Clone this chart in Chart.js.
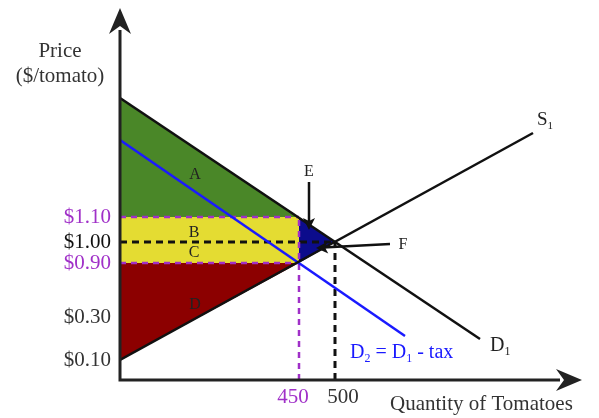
<!DOCTYPE html>
<html>
<head>
<meta charset="utf-8">
<script src="https://cdn.jsdelivr.net/npm/chart.js@4.4.0/dist/chart.umd.min.js"></script>
<style>
  html, body { margin:0; padding:0; background:#fff; }
  #wrap { width:599px; height:418px; position:relative; }
</style>
</head>
<body>
<div id="wrap"><canvas id="taxChart"></canvas></div>
<script>
// schematic diagram: positions are in diagram units along each axis
const priceTickPos    = [20, 63, 117, 138, 163];
const priceTickLabels = ["$0.10", "$0.30", "$0.90", "$1.00", "$1.10"];
const priceTickColors = ["#333", "#333", "#a030c8", "#111", "#a030c8"];
const qtyMarks        = [179, 215];          // 450 and 500 on the axis
const qtyTickPos      = [173, 223];          // where their labels sit
const qtyTickLabels   = ["450", "500"];
const qtyTickColors   = ["#a030c8", "#333"];

const demand1 = [{ x:0, y:282 }, { x:360, y:41 }];
const supply1 = [{ x:0, y:20 },  { x:413, y:247 }];
const demand2 = [{ x:0, y:240 }, { x:285, y:44 }];

const FONT = '"Liberation Serif", "Times New Roman", serif';
const PURPLE = "#a030c8";

// key points
const qTax = qtyMarks[0], qEq = qtyMarks[1];
const pBuyer = priceTickPos[4], pEq = priceTickPos[3], pSeller = priceTickPos[2];

const regionA = [{x:0,y:demand1[0].y}, {x:qTax,y:pBuyer}, {x:0,y:pBuyer}, {x:0,y:demand1[0].y}];
const regionBC = [{x:0,y:pBuyer}, {x:qTax,y:pBuyer}, {x:qTax,y:pSeller}, {x:0,y:pSeller}, {x:0,y:pBuyer}];
const regionD = [{x:0,y:pSeller}, {x:qTax,y:pSeller}, {x:0,y:supply1[0].y}, {x:0,y:pSeller}];
const regionEF = [{x:qTax,y:pBuyer}, {x:qEq,y:pEq}, {x:qTax,y:pSeller}, {x:qTax,y:pBuyer}];

function poly(data, color) {
  return { data, backgroundColor: color, borderWidth: 0, fill: "shape", pointRadius: 0, order: 6 };
}
function seg(data, color, width, dash) {
  return { data, borderColor: color, borderWidth: width, borderDash: dash || [], fill: false, pointRadius: 0, order: dash ? 3 : 1 };
}

function arrowHead(ctx, tx, ty, ang, len, hw, notch) {
  const c = Math.cos(ang), s = Math.sin(ang);
  const bx = tx - c * len, by = ty - s * len;
  ctx.beginPath();
  ctx.moveTo(tx, ty);
  ctx.lineTo(bx - s * hw, by + c * hw);
  ctx.lineTo(tx - c * (len - notch), ty - s * (len - notch));
  ctx.lineTo(bx + s * hw, by - c * hw);
  ctx.closePath();
  ctx.fill();
}

function subText(ctx, x, y, parts, size, color) {
  ctx.fillStyle = color;
  ctx.textAlign = "left";
  ctx.textBaseline = "alphabetic";
  let cx = x;
  parts.forEach(([t, sub]) => {
    const fs = sub ? Math.round(size * 0.6) : size;
    ctx.font = fs + "px " + FONT;
    ctx.fillText(t, cx, sub ? y + size * 0.22 : y);
    cx += ctx.measureText(t).width;
  });
}

const annotations = {
  id: "annotations",
  afterDatasetsDraw(chart) {
    const { ctx, chartArea: a } = chart;
    const X = v => chart.scales.x.getPixelForValue(v);
    const Y = v => chart.scales.y.getPixelForValue(v);
    ctx.save();

    // axes with arrowheads
    ctx.strokeStyle = "#222"; ctx.fillStyle = "#222"; ctx.lineWidth = 3;
    ctx.beginPath();
    ctx.moveTo(a.left, a.bottom + 1.5); ctx.lineTo(a.left, a.top + 20);
    ctx.moveTo(a.left - 1.5, a.bottom); ctx.lineTo(a.right - 20, a.bottom);
    ctx.stroke();
    arrowHead(ctx, a.left, a.top - 2, -Math.PI / 2, 26, 11, 8);
    arrowHead(ctx, a.right + 2, a.bottom, 0, 26, 11, 8);

    // E and F pointers
    ctx.strokeStyle = "#111"; ctx.fillStyle = "#111"; ctx.lineWidth = 2.5;
    ctx.beginPath();
    ctx.moveTo(X(189), Y(198)); ctx.lineTo(X(189), Y(156));
    ctx.moveTo(X(270), Y(136)); ctx.lineTo(X(203), Y(132.5));
    ctx.stroke();
    arrowHead(ctx, X(189), Y(150), Math.PI / 2, 12, 6, 3);
    arrowHead(ctx, X(196), Y(132), Math.PI - 0.05, 12, 6, 3);

    // area and point letters
    ctx.fillStyle = "#222"; ctx.font = "16px " + FONT;
    ctx.textAlign = "center"; ctx.textBaseline = "middle";
    [["A", 75, 205], ["B", 74, 147], ["C", 74, 127], ["D", 75, 75], ["E", 189, 208], ["F", 283, 135]]
      .forEach(([t, x, y]) => ctx.fillText(t, X(x), Y(y)));

    // axis titles
    ctx.font = "21px " + FONT; ctx.fillStyle = "#333";
    ctx.textBaseline = "alphabetic";
    ctx.fillText("Price", X(-60), Y(323));
    ctx.fillText("($/tomato)", X(-60), Y(298));
    ctx.textAlign = "left";
    ctx.fillText("Quantity of Tomatoes", X(270), Y(-30));

    // curve labels
    subText(ctx, X(417), Y(255), [["S", false], ["1", true]], 19, "#222");
    subText(ctx, X(370), Y(29), [["D", false], ["1", true]], 20, "#222");
    subText(ctx, X(230), Y(22), [["D", false], ["2", true], [" = D", false], ["1", true], [" - tax", false]], 20, "#1a1aff");

    ctx.restore();
  }
};

new Chart(document.getElementById("taxChart").getContext("2d"), {
  type: "line",
  data: {
    datasets: [
      poly(regionA, "#4a8728"),
      poly(regionBC, "#e4dc32"),
      poly(regionD, "#8c0000"),
      poly(regionEF, "#0c0c8c"),
      seg([{x:0,y:pBuyer}, {x:qTax,y:pBuyer}], PURPLE, 2.5, [6, 5]),
      seg([{x:0,y:pSeller}, {x:qTax,y:pSeller}], PURPLE, 2.5, [6, 5]),
      seg([{x:qTax,y:0}, {x:qTax,y:pBuyer}], PURPLE, 2.5, [6, 5]),
      seg([{x:0,y:pEq}, {x:qEq,y:pEq}], "#111", 3, [7, 5]),
      seg([{x:qEq,y:0}, {x:qEq,y:pEq}], "#111", 3, [7, 5]),
      seg(demand1, "#111", 2.5),
      seg(supply1, "#111", 2.5),
      seg(demand2, "#1a1aff", 2.5),
    ],
  },
  options: {
    responsive: true,
    maintainAspectRatio: false,
    animation: false,
    layout: { padding: { top: 10, right: 19, left: 0, bottom: 0 } },
    plugins: { legend: { display: false }, tooltip: { enabled: false } },
    scales: {
      x: {
        type: "linear", min: 0, max: 460,
        grid: { display: false, drawTicks: false }, border: { display: false },
        afterBuildTicks: s => { s.ticks = qtyTickPos.map(v => ({ value: v })); },
        afterFit: s => { s.height = 38; s.paddingLeft = 0; s.paddingRight = 0; },
        ticks: {
          autoSkip: false, maxRotation: 0, padding: 5,
          font: { family: FONT, size: 21 },
          color: c => qtyTickColors[c.index],
          callback: (v, i) => qtyTickLabels[i],
        },
      },
      y: {
        type: "linear", min: 0, max: 370,
        grid: { display: false, drawTicks: false }, border: { display: false },
        afterBuildTicks: s => { s.ticks = priceTickPos.map(v => ({ value: v })); },
        afterFit: s => { s.width = 120; s.paddingTop = 0; s.paddingBottom = 0; },
        ticks: {
          autoSkip: false, padding: 9,
          font: { family: FONT, size: 21 },
          color: c => priceTickColors[c.index],
          callback: (v, i) => priceTickLabels[i],
        },
      },
    },
  },
  plugins: [annotations],
});
</script>
</body>
</html>
